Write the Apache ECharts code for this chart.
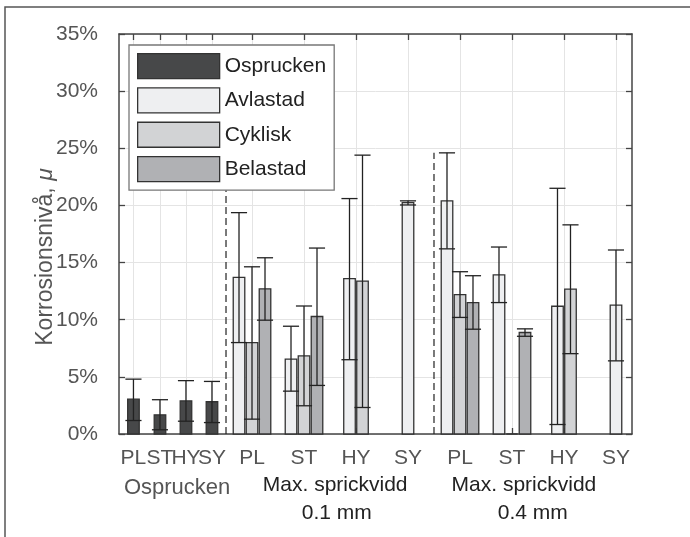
<!DOCTYPE html>
<html><head><meta charset="utf-8">
<script src="https://cdn.jsdelivr.net/npm/echarts@6/dist/echarts.min.js"></script>
<style>html,body{margin:0;padding:0;background:#fff}#c{width:690px;height:537px}</style>
</head><body><div id="c"></div>
<script>
// ---- data ----
const tickLabels = ['PL','ST','HY','SY','PL','ST','HY','SY','PL','ST','HY','SY'];
const tickPos    = [0.72, 1.23, 1.73, 2.23, 3, 4, 5, 6, 7, 8, 9, 10];
const seriesNames = ['Osprucken','Avlastad','Cyklisk','Belastad'];

const ospruckenVal = [3.05, 1.68, 2.9, 2.82, null, null, null, null, null, null, null, null];
const ospruckenLo  = [1.18, 0.37, 1.12, 1.0, null, null, null, null, null, null, null, null];
const ospruckenHi  = [4.8, 3.0, 4.67, 4.6, null, null, null, null, null, null, null, null];

const avlastadVal = [null, null, null, null, 13.7, 6.56, 13.6, 20.25, 20.4, 13.93, 11.18, 11.27];
const avlastadLo  = [null, null, null, null, 8.0, 3.75, 6.5, 20.04, 16.2, 11.5, 0.83, 6.4];
const avlastadHi  = [null, null, null, null, 19.37, 9.43, 20.6, 20.4, 24.6, 16.36, 21.5, 16.1];

const cykliskVal = [null, null, null, null, 8.0, 6.83, 13.38, null, 12.2, 0, 12.68, null];
const cykliskLo  = [null, null, null, null, 1.3, 2.47, 2.32, null, 10.2, null, 7.03, null];
const cykliskHi  = [null, null, null, null, 14.63, 11.2, 24.4, null, 14.2, null, 18.3, null];

const belastadVal = [null, null, null, null, 12.7, 10.28, null, null, 11.5, 8.88, null, null];
const belastadLo  = [null, null, null, null, 9.96, 4.25, null, null, 9.17, 8.55, null, null];
const belastadHi  = [null, null, null, null, 15.42, 16.27, null, null, 13.85, 9.2, null, null];

const separatorX = [2.5, 6.5];
const separatorTop = 24.6;

const annotX    = [1.56, 4.6, 4.63, 8.23, 8.4];
const annotText = ['Osprucken', 'Max. sprickvidd', '0.1 mm', 'Max. sprickvidd', '0.4 mm'];
const annotRow  = [0, 0, 1, 0, 1];

// ---- styles ----
const FONT = "'Liberation Sans', Arial, Helvetica, sans-serif";
const colors = ['#474849', '#eeeff1', '#d2d3d5', '#b0b1b4'];
const BW = 0.222, SLOT = 0.25, CAP = 0.31;

const vals = [ospruckenVal, avlastadVal, cykliskVal, belastadVal];
const los  = [ospruckenLo, avlastadLo, cykliskLo, belastadLo];
const his  = [ospruckenHi, avlastadHi, cykliskHi, belastadHi];

// layout offsets: bars present (non-null) in each group share slots
const offsets = vals.map(() => []);
for (let g = 0; g < tickPos.length; g++) {
  const present = [];
  for (let s = 0; s < vals.length; s++) if (vals[s][g] !== null) present.push(s);
  present.forEach((s, i) => { offsets[s][g] = (i - (present.length - 1) / 2) * SLOT; });
}

const barSeries = seriesNames.map((name, s) => {
  const data = [];
  for (let g = 0; g < tickPos.length; g++) {
    if (vals[s][g] === null) continue;
    data.push([tickPos[g] + offsets[s][g], vals[s][g]]);
  }
  return {
    name, type: 'custom', z: 2, clip: false,
    itemStyle: { color: colors[s], borderColor: '#333', borderWidth: 1.3 },
    data,
    renderItem: (params, api) => {
      const x = api.value(0), v = api.value(1);
      const p0 = api.coord([x - BW / 2, v]);
      const p1 = api.coord([x + BW / 2, 0]);
      return { type: 'rect',
        shape: { x: p0[0], y: p0[1], width: p1[0] - p0[0], height: p1[1] - p0[1] },
        style: { fill: colors[s], stroke: '#333', lineWidth: 1.3 } };
    }
  };
});

const errData = [];
for (let s = 0; s < vals.length; s++) for (let g = 0; g < tickPos.length; g++) {
  if (vals[s][g] === null || los[s][g] === null) continue;
  errData.push([tickPos[g] + offsets[s][g], los[s][g], his[s][g]]);
}
const errSeries = {
  type: 'custom', z: 3, clip: false, silent: true, data: errData,
  renderItem: (params, api) => {
    const x = api.value(0), lo = api.value(1), hi = api.value(2);
    const a = api.coord([x, lo]), b = api.coord([x, hi]);
    const l = api.coord([x - CAP / 2, lo])[0], r = api.coord([x + CAP / 2, lo])[0];
    const st = { stroke: '#222', lineWidth: 1.3 };
    return { type: 'group', children: [
      { type: 'line', shape: { x1: a[0], y1: a[1], x2: b[0], y2: b[1] }, style: st },
      { type: 'line', shape: { x1: l, y1: a[1], x2: r, y2: a[1] }, style: st },
      { type: 'line', shape: { x1: l, y1: b[1], x2: r, y2: b[1] }, style: st }
    ]};
  }
};

const sepSeries = {
  type: 'custom', z: 1, clip: false, silent: true,
  data: separatorX.map(x => [x, 0, separatorTop]),
  renderItem: (params, api) => {
    const a = api.coord([api.value(0), api.value(1)]), b = api.coord([api.value(0), api.value(2)]);
    return { type: 'line', shape: { x1: a[0], y1: a[1], x2: b[0], y2: b[1] },
      style: { stroke: '#222', lineWidth: 1.2, lineDash: [7, 4] } };
  }
};

const annotSeries = {
  type: 'custom', z: 5, clip: false, silent: true,
  data: annotX.map((x, i) => [x, annotRow[i]]),
  renderItem: (params, api) => {
    const i = params.dataIndex;
    const p = api.coord([api.value(0), 0]);
    const first = annotText[i] === 'Osprucken';
    return { type: 'text', x: p[0], y: p[1] + (first ? 54 : (api.value(1) === 0 ? 51 : 79)),
      style: { text: annotText[i], font: (first ? '22px ' : '21px ') + FONT,
        fill: first ? '#555' : '#222', align: 'center', verticalAlign: 'middle' } };
  }
};

const labelFor = v => { const k = tickPos.findIndex(t => Math.abs(t - v) < 1e-6); return k >= 0 ? tickLabels[k] : ''; };
const axisLineStyle = { color: '#444', width: 1.5 };
const gridLine = { show: true, lineStyle: { color: '#e4e4e4', width: 1 } };
const XMIN = 0.442, XMAX = 10.308;

const option = {
  animation: false,
  backgroundColor: '#fff',
  textStyle: { fontFamily: FONT },
  grid: { left: 119, right: 58, top: 34, bottom: 103 },
  graphic: [{ type: 'rect', silent: true, z: 0,
    shape: { x: 5, y: 7, width: 720, height: 600 },
    style: { fill: 'none', stroke: '#555', lineWidth: 1.5 } }],
  legend: {
    data: seriesNames, orient: 'vertical', left: 129, top: 45,
    padding: 8, itemGap: 8, itemWidth: 82, itemHeight: 25, icon: 'rect',
    backgroundColor: '#fff', borderColor: '#777', borderWidth: 1.3, borderRadius: 0,
    itemStyle: { borderColor: '#333', borderWidth: 1.3 },
    textStyle: { fontSize: 21, color: '#222', fontFamily: FONT }
  },
  xAxis: [{
    type: 'value', min: XMIN, max: XMAX, position: 'bottom',
    axisLine: { show: true, onZero: false, lineStyle: axisLineStyle },
    axisTick: { show: true, inside: true, length: 6, customValues: tickPos, lineStyle: { color: '#444', width: 1.3 } },
    axisLabel: { show: true, customValues: tickPos, formatter: labelFor, fontSize: 21, color: '#555', margin: 14, fontFamily: FONT, hideOverlap: false },
    splitLine: gridLine
  }, {
    type: 'value', min: XMIN, max: XMAX, position: 'top',
    axisLine: { show: true, onZero: false, lineStyle: axisLineStyle },
    axisTick: { show: true, inside: true, length: 6, customValues: tickPos, lineStyle: { color: '#444', width: 1.3 } },
    axisLabel: { show: false }, splitLine: { show: false }
  }],
  yAxis: [{
    type: 'value', min: 0, max: 35, interval: 5, position: 'left',
    name: 'Korrosionsnivå, {i|μ}', nameLocation: 'middle', nameGap: 62, nameMoveOverlap: false,
    nameTextStyle: { fontSize: 23, color: '#555', fontFamily: FONT, padding: [0, 46, 0, 0],
      rich: { i: { fontSize: 23, fontStyle: 'italic', color: '#555', fontFamily: FONT } } },
    axisLine: { show: true, onZero: false, lineStyle: axisLineStyle },
    axisTick: { show: true, inside: true, length: 6, lineStyle: { color: '#444', width: 1.3 } },
    axisLabel: { formatter: '{value}%', fontSize: 21, color: '#555', margin: 21, fontFamily: FONT },
    splitLine: gridLine
  }, {
    type: 'value', min: 0, max: 35, interval: 5, position: 'right',
    axisLine: { show: true, onZero: false, lineStyle: axisLineStyle },
    axisTick: { show: true, inside: true, length: 6, lineStyle: { color: '#444', width: 1.3 } },
    axisLabel: { show: false }, splitLine: { show: false }
  }],
  series: [sepSeries, ...barSeries, errSeries, annotSeries]
};

const chart = echarts.init(document.getElementById('c'), null, { renderer: 'canvas' });
chart.setOption(option);
</script></body></html>
